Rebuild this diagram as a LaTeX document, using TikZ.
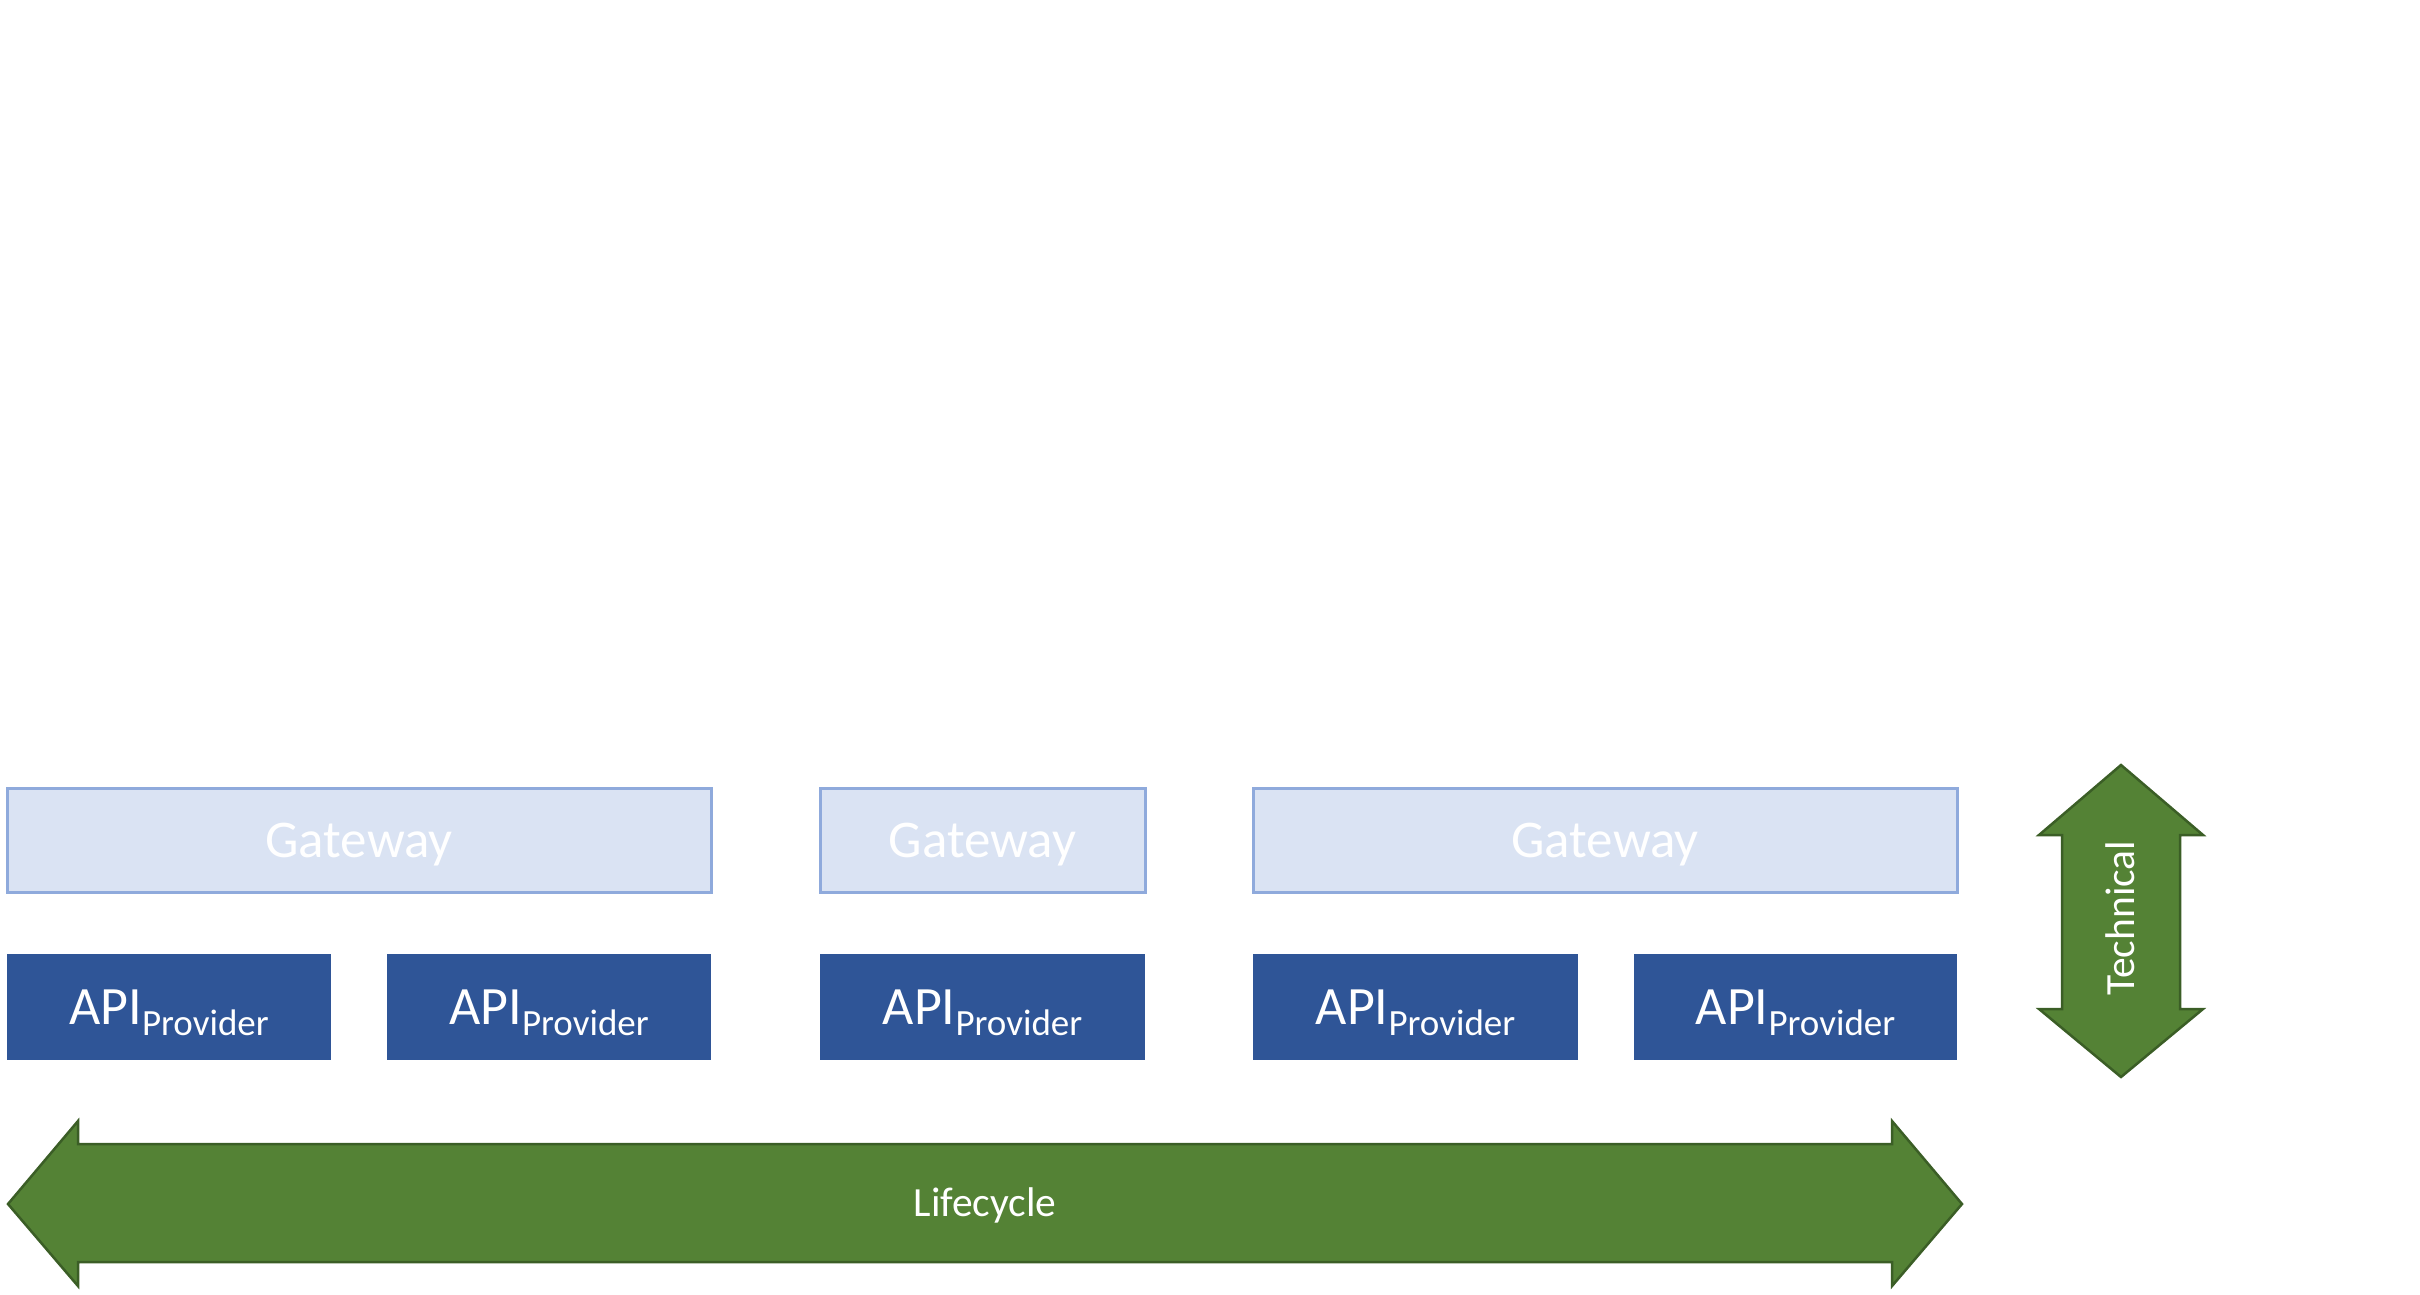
\documentclass[tikz,border=0pt]{standalone}
\usepackage{fontspec}
\setmainfont{Carlito}
\definecolor{gwfill}{HTML}{DAE3F3}
\definecolor{gwdraw}{HTML}{8FAADC}
\definecolor{apifill}{HTML}{2F5597}
\definecolor{arrfill}{HTML}{548235}
\definecolor{arrdraw}{HTML}{3B5E26}
\begin{document}
\begin{tikzpicture}[x=1pt,y=-1pt,
  gw/.style={draw=gwdraw,line width=3pt,fill=gwfill,text=white,inner sep=0pt,outer sep=0pt,
    anchor=north west,minimum height=104pt,font=\fontsize{53}{60}\selectfont,text height=34pt,text depth=0pt},
  api/.style={fill=apifill,text=white,inner sep=0pt,outer sep=0pt,anchor=north west,
    minimum width=324pt,minimum height=106pt,font=\fontsize{54}{60}\selectfont,text height=35pt,text depth=0pt},
  bigarrow/.style={fill=arrfill,draw=arrdraw,line width=2.5pt,line join=miter},
  arrlabel/.style={text=white,inner sep=0pt,font=\fontsize{41.5}{48}\selectfont,text height=27pt,text depth=0pt}]
\useasboundingbox (0,0) rectangle (2420,1294);
\newcommand{\apitext}{API{\fontsize{37}{40}\selectfont\raisebox{-11pt}{Provider}}}
% gateways
\node[gw,minimum width=704pt] (gw1) at (7,788) {Gateway};
\node[gw,minimum width=325pt] (gw2) at (820,788) {Gateway};
\node[gw,minimum width=704pt] (gw3) at (1253,788) {Gateway};
% API providers
\node[api] (api1) at (7,954) {\apitext};
\node[api] (api2) at (387,954) {\apitext};
\node[api,minimum width=325pt] (api3) at (820,954) {\apitext};
\node[api,minimum width=325pt] (api4) at (1253,954) {\apitext};
\node[api,minimum width=323pt] (api5) at (1634,954) {\apitext};
% lifecycle arrow
\draw[bigarrow] (8,1204) -- (78,1121) -- (78,1144) -- (1892,1144) -- (1892,1121) -- (1962,1204)
  -- (1892,1286) -- (1892,1262) -- (78,1262) -- (78,1286) -- cycle;
\node[arrlabel] (life) at (985,1203) {Lifecycle};
% technical arrow
\draw[bigarrow] (2121,765) -- (2203,835) -- (2180,835) -- (2180,1009) -- (2203,1009) -- (2121,1077)
  -- (2039,1009) -- (2062,1009) -- (2062,835) -- (2039,835) -- cycle;
\node[arrlabel,rotate=90] (tech) at (2121,918) {Technical};
\end{tikzpicture}
\end{document}
